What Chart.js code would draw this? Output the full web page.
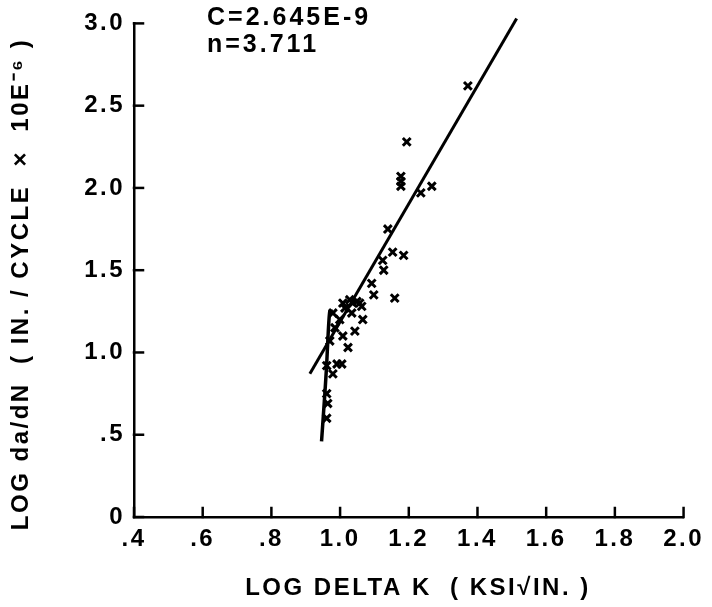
<!DOCTYPE html>
<html>
<head>
<meta charset="utf-8">
<script src="https://cdn.jsdelivr.net/npm/chart.js@4"></script>
<style>
  html,body{margin:0;padding:0;background:#fff;}
  #wrap{width:712px;height:607px;}
</style>
</head>
<body>
<div id="wrap"><canvas id="c" width="712" height="607"></canvas></div>
<script>
// ---- data ----
const xTickValues = [0.4, 0.6, 0.8, 1.0, 1.2, 1.4, 1.6, 1.8, 2.0];
const xTickLabels = ['.4', '.6', '.8', '1.0', '1.2', '1.4', '1.6', '1.8', '2.0'];
const yTickValues = [0, 0.5, 1.0, 1.5, 2.0, 2.5, 3.0];
const yTickLabels = ['0', '.5', '1.0', '1.5', '2.0', '2.5', '3.0'];

const pointsX = [1.372, 1.194, 1.177, 1.177, 1.177, 1.267, 1.235, 1.139, 1.153, 1.185,
                 1.124, 1.127, 1.092, 1.098, 1.159, 1.049, 1.057, 1.037, 1.063, 1.028,
                 1.008, 1.014, 1.034, 1.066, 0.979, 0.999, 1.043, 1.008, 0.985, 0.970,
                 1.023, 0.991, 1.005, 0.979, 0.961, 0.964, 0.961, 0.961];
const pointsY = [2.62, 2.28, 2.07, 2.04, 2.01, 2.01, 1.97, 1.75, 1.61, 1.59,
                 1.56, 1.50, 1.42, 1.35, 1.33, 1.31, 1.30, 1.30, 1.28, 1.32,
                 1.30, 1.27, 1.24, 1.20, 1.24, 1.20, 1.13, 1.10, 1.15, 1.07,
                 1.03, 0.93, 0.93, 0.87, 0.75, 0.69, 0.60, 0.92];

const fitLineX = [0.912, 1.514];
const fitLineY = [0.87, 3.03];

const curveX = [0.946, 0.956, 0.961, 0.964, 0.970, 0.979];
const curveY = [0.46, 0.76, 0.93, 1.06, 1.25, 1.25];

const noteLines = ['C=2.645E-9', 'n=3.711'];
const xTitle = '  LOG DELTA K  ( KSI\u221AIN. )';
const yTitle = 'LOG da/dN  ( IN. / CYCLE  \u00D7  10E\u207B\u2076 )   ';

// ---- build ----
const zip = (xs, ys) => xs.map((x, i) => ({x: x, y: ys[i]}));
const FONT = '"Liberation Sans", Arial, Helvetica, sans-serif';
const SPACING = '2.5px';

const wideText = {
  id: 'wideText',
  beforeUpdate(chart) { chart.ctx.letterSpacing = SPACING; },
  beforeDraw(chart) { chart.ctx.letterSpacing = SPACING; }
};

const inwardTicks = {
  id: 'inwardTicks',
  afterDraw(chart) {
    const ctx = chart.ctx;
    const xs = chart.scales.x, ys = chart.scales.y;
    const ca = chart.chartArea;
    ctx.save();
    ctx.strokeStyle = '#000';
    ctx.lineWidth = 2.5;
    ctx.lineCap = 'square';
    xTickValues.forEach(v => {
      const px = xs.getPixelForValue(v);
      ctx.beginPath(); ctx.moveTo(px, ca.bottom); ctx.lineTo(px, ca.bottom - 9); ctx.stroke();
    });
    yTickValues.forEach(v => {
      const py = ys.getPixelForValue(v);
      ctx.beginPath(); ctx.moveTo(ca.left, py); ctx.lineTo(ca.left + 9, py); ctx.stroke();
    });
    // notes
    ctx.fillStyle = '#000';
    ctx.font = 'bold 25px ' + FONT;
    ctx.letterSpacing = '3px';
    ctx.textBaseline = 'middle';
    ctx.textAlign = 'left';
    ctx.fillText(noteLines[0], ca.left + 73, 18);
    ctx.fillText(noteLines[1], ca.left + 73, 45);
    ctx.restore();
  }
};

new Chart(document.getElementById('c'), {
  type: 'scatter',
  data: {
    datasets: [
      {
        data: zip(pointsX, pointsY),
        pointStyle: 'crossRot',
        pointRadius: 5.5,
        pointBorderWidth: 3,
        borderColor: '#000',
        backgroundColor: '#000',
        showLine: false
      },
      {
        data: zip(fitLineX, fitLineY),
        showLine: true,
        borderColor: '#000',
        borderWidth: 3,
        pointRadius: 0,
        clip: false
      },
      {
        data: zip(curveX, curveY),
        showLine: true,
        borderColor: '#000',
        borderWidth: 3.5,
        pointRadius: 0,
        tension: 0.2
      }
    ]
  },
  options: {
    responsive: false,
    animation: false,
    events: [],
    plugins: { legend: {display: false}, tooltip: {enabled: false} },
    layout: { padding: {top: 17, right: 28, left: 0, bottom: 0} },
    scales: {
      x: {
        type: 'linear',
        min: 0.4, max: 2.0,
        afterBuildTicks: s => { s.ticks = xTickValues.map(v => ({value: v})); },
        afterFit: s => { s.height = 90; },
        grid: { display: true, drawOnChartArea: false, drawTicks: false, color: 'rgba(0,0,0,0)' },
        border: { display: true, color: '#000', width: 2.5 },
        ticks: {
          padding: 8,
          color: '#000',
          font: {family: FONT, size: 24, weight: 'bold'},
          maxRotation: 0,
          callback: (v, i) => xTickLabels[i]
        },
        title: {
          display: true, text: xTitle, color: '#000',
          font: {family: FONT, size: 24, weight: 'bold'},
          padding: {top: 2}
        }
      },
      y: {
        type: 'linear',
        min: 0, max: 3.0,
        afterBuildTicks: s => { s.ticks = yTickValues.map(v => ({value: v})); },
        afterFit: s => { s.width = 134; },
        grid: { display: true, drawOnChartArea: false, drawTicks: false, color: 'rgba(0,0,0,0)' },
        border: { display: true, color: '#000', width: 2.5 },
        ticks: {
          padding: 9,
          color: '#000',
          font: {family: FONT, size: 24, weight: 'bold'},
          callback: (v, i) => yTickLabels[i]
        },
        title: {
          display: true, text: yTitle, color: '#000',
          font: {family: FONT, size: 24, weight: 'bold'},
          padding: {top: 7, bottom: 0}
        }
      }
    }
  },
  plugins: [wideText, inwardTicks]
});
</script>
</body>
</html>
